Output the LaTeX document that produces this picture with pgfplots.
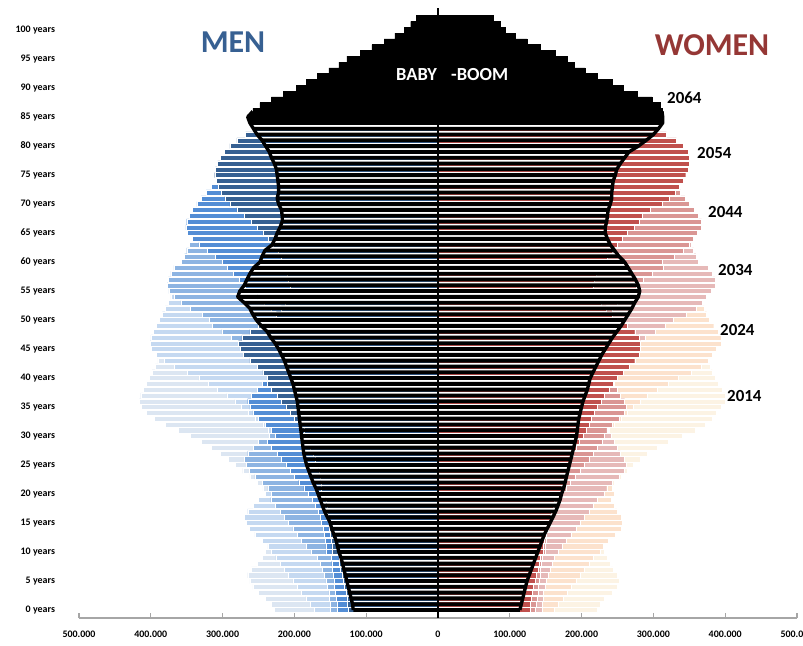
\documentclass[border=0pt]{standalone}
\usepackage{pgfplots}
\pgfplotsset{compat=1.18}
\usepackage{pgfplotstable}
\usepackage{fontspec}
\setmainfont{Carlito}
\definecolor{mA}{HTML}{DCE6F2}
\definecolor{mB}{HTML}{C5D9F1}
\definecolor{mC}{HTML}{8DB4E2}
\definecolor{mD}{HTML}{538DD5}
\definecolor{mE}{HTML}{366092}
\definecolor{wA}{HTML}{FCF3E4}
\definecolor{wB}{HTML}{FCE2CD}
\definecolor{wC}{HTML}{E6B9B8}
\definecolor{wD}{HTML}{DA9694}
\definecolor{wE}{HTML}{C0504D}
\definecolor{menc}{HTML}{376092}
\definecolor{womc}{HTML}{953735}
\definecolor{axg}{HTML}{A6A6A6}

\pgfplotstableread{
a m14 m24 m34 m44 m54 m64 w14 w24 w34 w44 w54 w64
0 228 172 150 140 125 118 222 162 145 136 128 114
1 232 178 150 141 126 119 226 168 145 137 129 116
2 240 184 151 142 127 121 232 174 146 138 130 118
3 250 190 152 143 128 123 242 180 147 139 131 120
4 258 196 154 144 130 125 250 186 149 140 133 122
5 262 202 156 145 132 127 252 192 151 141 135 124
6 265 208 158 146 134 129 250 198 153 142 137 127
7 260 214 161 147 136 131 244 204 156 143 139 130
8 252 220 164 148 137 133 240 210 159 144 141 133
9 245 226 168 149 138 135 236 216 162 145 143 136
10 240 232 177 156 147 138 232 226 167 149 146 139
11 235 237 183 156 148 140 228 230 173 149 147 142
12 232 245 190 157 149 142 225 237 179 150 148 145
13 230 255 196 158 150 145 222 247 185 151 150 148
14 225 263 202 160 151 148 218 255 192 153 152 152
15 222 267 208 162 152 150 214 257 198 156 154 156
16 220 270 214 164 153 154 212 255 204 158 156 160
17 222 265 220 167 154 158 214 249 210 161 158 164
18 225 257 227 171 155 161 218 245 216 164 160 167
19 230 250 233 175 156 164 224 241 222 167 162 170
20 236 240 232 181 162 167 230 246 231 172 170 172
21 244 235 237 187 162 170 238 242 235 178 172 175
22 252 232 245 194 163 174 246 239 242 184 174 177
23 262 230 255 200 164 177 255 235 252 191 176 179
24 272 225 263 206 166 180 263 231 260 198 178 181
25 282 222 267 212 168 183 272 227 262 204 181 183
26 292 220 270 218 171 185 282 225 260 210 184 185
27 303 222 265 224 174 187 292 227 254 216 188 187
28 316 225 257 232 178 188 305 231 250 222 192 189
29 330 230 250 238 182 189 320 237 246 229 197 191
30 345 229 235 227 181 190 340 230 241 231 202 193
31 362 237 230 232 187 191 358 238 237 235 206 194
32 380 244 227 240 194 192 372 246 234 242 210 195
33 395 254 225 250 200 193 382 255 230 252 214 196
34 406 264 220 258 206 194 388 263 226 260 218 198
35 413 274 218 262 212 195 394 272 222 262 222 200
36 416 283 216 265 218 196 400 282 220 260 227 202
37 414 294 218 260 224 198 400 292 222 254 232 205
38 410 307 220 252 232 200 396 305 226 250 238 208
39 406 320 225 245 238 202 390 320 232 246 244 210
40 402 333 224 230 238 205 386 335 228 239 250 212
41 398 349 232 225 244 208 382 353 236 235 258 216
42 394 367 239 222 252 211 379 366 244 232 266 220
43 390 381 249 220 262 214 376 376 252 228 274 224
44 386 392 259 216 271 218 374 382 260 224 280 228
45 381 399 269 214 275 222 371 388 269 220 282 233
46 376 401 277 212 278 227 367 394 279 218 282 238
47 370 400 288 214 273 233 363 394 289 220 280 243
48 364 396 301 216 262 238 358 390 302 224 274 249
49 357 392 314 220 250 246 352 384 317 230 264 255
50 350 388 318 217 236 253 346 378 328 226 252 260
51 342 384 328 225 225 258 340 374 346 234 242 265
52 334 380 345 232 218 262 333 371 359 242 234 270
53 326 376 358 242 213 270 326 368 368 249 227 274
54 318 372 368 251 210 279 318 367 374 257 222 279
55 310 368 375 261 208 276 310 364 380 266 218 281
56 302 363 377 269 206 270 302 360 386 276 216 279
57 294 357 376 277 208 266 295 356 386 286 218 275
58 286 351 372 285 210 262 287 351 382 299 221 270
59 278 345 368 293 213 257 280 345 376 314 225 265
60 270 335 357 300 214 248 273 336 363 312 230 260
61 262 325 353 310 218 245 266 330 359 329 236 252
62 255 315 350 321 222 241 260 323 356 341 242 246
63 248 306 346 333 229 231 255 316 353 350 249 240
64 240 298 342 342 236 227 250 308 352 355 256 236
65 232 290 339 349 244 224 245 301 349 361 264 233
66 225 282 334 351 252 220 240 293 346 367 273 233
67 218 274 328 350 260 217 235 286 342 367 280 235
68 210 266 323 346 270 217 230 278 337 363 285 236
69 202 258 317 342 280 218 224 272 331 357 295 237
70 192 248 308 336 290 222 215 263 322 350 312 240
71 178 238 299 330 297 224 200 256 313 344 322 242
72 170 228 290 323 302 222 192 249 304 338 330 242
73 172 218 280 316 306 222 196 243 296 333 336 243
74 175 209 270 308 309 223 200 237 288 328 341 244
75 170 200 260 300 311 224 198 231 280 323 345 247
76 162 192 250 292 310 225 192 225 272 318 349 249
77 155 184 240 284 307 228 188 219 264 313 350 254
78 146 176 230 277 303 232 182 213 256 308 350 260
79 137 168 220 270 298 235 176 207 248 302 348 266
80 128 156 210 255 290 240 170 199 238 295 342 279
81 118 144 197 240 280 245 162 189 227 285 332 290
82 108 132 183 224 268 252 154 179 215 274 318 300
83 98 121 168 208 255 257 146 168 203 262 303 307
84 88 110 153 192 240 262 138 157 190 249 287 313
85 78 99 138 176 224 265 128 146 176 235 270 313
86 68 88 122 160 206 258 118 134 161 220 252 312
87 58 77 107 144 188 248 106 122 146 204 236 309
88 48 66 92 128 170 232 94 110 131 188 218 298
89 39 56 78 112 152 215 82 97 116 171 200 278
90 31 46 64 96 134 197 70 85 95 154 181 258
91 24 38 52 80 116 183 58 74 82 136 162 242
92 18 30 42 66 98 168 47 63 70 118 142 222
93 13 24 33 53 82 152 37 52 58 100 122 205
94 9 18 26 42 67 138 29 43 48 83 102 190
95 6 13 20 32 53 127 22 34 38 67 83 180
96 4 10 15 24 41 108 16 26 29 52 66 163
97 3 7 11 17 31 92 11 19 21 39 50 143
98 2 5 8 12 22 75 8 13 15 28 37 124
99 1 3 5 8 15 60 5 9 10 19 26 108
100 1 2 3 5 10 47 4 6 6 12 18 93
101 0 1 2 3 6 38 3 4 4 8 12 86
102 0 0 1 2 4 30 2 2 2 5 8 77
}\pop

\pgfplotsset{
  lay/.style={xbar, bar width=0.88, bar shift=0pt, draw=white, line width=0.4pt, fill=#1},
}

\begin{document}
\begin{tikzpicture}
\path[use as bounding box] (0,0) rectangle (803bp,646bp);
\begin{axis}[
  at={(79bp,28bp)}, anchor=south west,
  scale only axis, width=718bp, height=618bp,
  xmin=-500, xmax=500, ymin=-1.38, ymax=105.2,
  axis x line*=bottom, axis y line*=left,
  y axis line style={draw=none},
  x axis line style={draw=axg, line width=1.3pt},
  xtick={-500,-400,-300,-200,-100,0,100,200,300,400,500},
  xticklabels={500.000,400.000,300.000,200.000,100.000,0,100.000,200.000,300.000,400.000,500.000},
  ytick={0,5,...,100},
  yticklabels={0 years,5 years,10 years,15 years,20 years,25 years,30 years,35 years,40 years,45 years,50 years,55 years,60 years,65 years,70 years,75 years,80 years,85 years,90 years,95 years,100 years},
  tick align=inside, major tick length=5bp,
  xtick style={draw=axg, line width=1.3pt},
  ytick style={draw=none},
  xticklabel style={font=\fontsize{10}{12}\selectfont\bfseries, yshift=-9bp},
  yticklabel style={font=\fontsize{10}{12}\selectfont\bfseries, anchor=east, xshift=-20.5bp},
  clip=false,
]
% 2014
\addplot[lay=mA] table[x expr=-\thisrow{m14}, y=a]{\pop};
\addplot[lay=wA] table[x=w14, y=a]{\pop};
% 2024
\addplot[lay=mB] table[x expr=-\thisrow{m24}, y=a]{\pop};
\addplot[lay=wB] table[x=w24, y=a]{\pop};
% 2034
\addplot[lay=mC] table[x expr=-\thisrow{m34}, y=a]{\pop};
\addplot[lay=wC] table[x=w34, y=a]{\pop};
% 2044
\addplot[lay=mD] table[x expr=-\thisrow{m44}, y=a]{\pop};
\addplot[lay=wD] table[x=w44, y=a]{\pop};
% 2054
\addplot[lay=mE] table[x expr=-\thisrow{m54}, y=a]{\pop};
\addplot[lay=wE] table[x=w54, y=a]{\pop};
% 2064
\addplot[xbar, bar width=0.66, bar shift=0pt, fill=black, draw=none, restrict y to domain=-1:84.6] table[x expr=-\thisrow{m64}, y=a]{\pop};
\addplot[xbar, bar width=0.66, bar shift=0pt, fill=black, draw=none, restrict y to domain=-1:84.6] table[x=w64, y=a]{\pop};
\addplot[xbar, bar width=1.0, bar shift=0pt, fill=black, draw=black, line width=0.4pt, restrict y to domain=84.6:103] table[x expr=-\thisrow{m64}, y=a]{\pop};
\addplot[xbar, bar width=1.0, bar shift=0pt, fill=black, draw=black, line width=0.4pt, restrict y to domain=84.6:103] table[x=w64, y=a]{\pop};
\addplot[sharp plot, black, line width=3.4pt, line join=round, no marks, restrict y to domain=-1:86] table[x expr=-\thisrow{m64}, y=a]{\pop};
\addplot[sharp plot, black, line width=3.4pt, line join=round, no marks, restrict y to domain=-1:86] table[x=w64, y=a]{\pop};
\draw[black, line width=1.3pt] (axis cs:0,-1.38) -- (axis cs:0,103.8);
\end{axis}
\node[text=menc, font=\fontsize{32}{32}\selectfont\bfseries] at (233bp,604bp) {MEN};
\node[text=womc, font=\fontsize{32}{32}\selectfont\bfseries] at (712bp,601bp) {WOMEN};
\node[text=white, font=\fontsize{18.5}{20}\selectfont\bfseries, anchor=base east, inner sep=0pt] at (437bp,565bp) {BABY};
\node[text=white, font=\fontsize{18.5}{20}\selectfont\bfseries, anchor=base west, inner sep=0pt] at (451bp,565bp) {-BOOM};
\begin{scope}[every node/.style={font=\fontsize{17}{18}\selectfont\bfseries, anchor=west, inner sep=0pt}]
\node at (667bp,548bp) {2064};
\node at (697bp,493bp) {2054};
\node at (708bp,434bp) {2044};
\node at (718bp,376bp) {2034};
\node at (720bp,316bp) {2024};
\node at (727bp,250bp) {2014};
\end{scope}
\end{tikzpicture}
\end{document}
